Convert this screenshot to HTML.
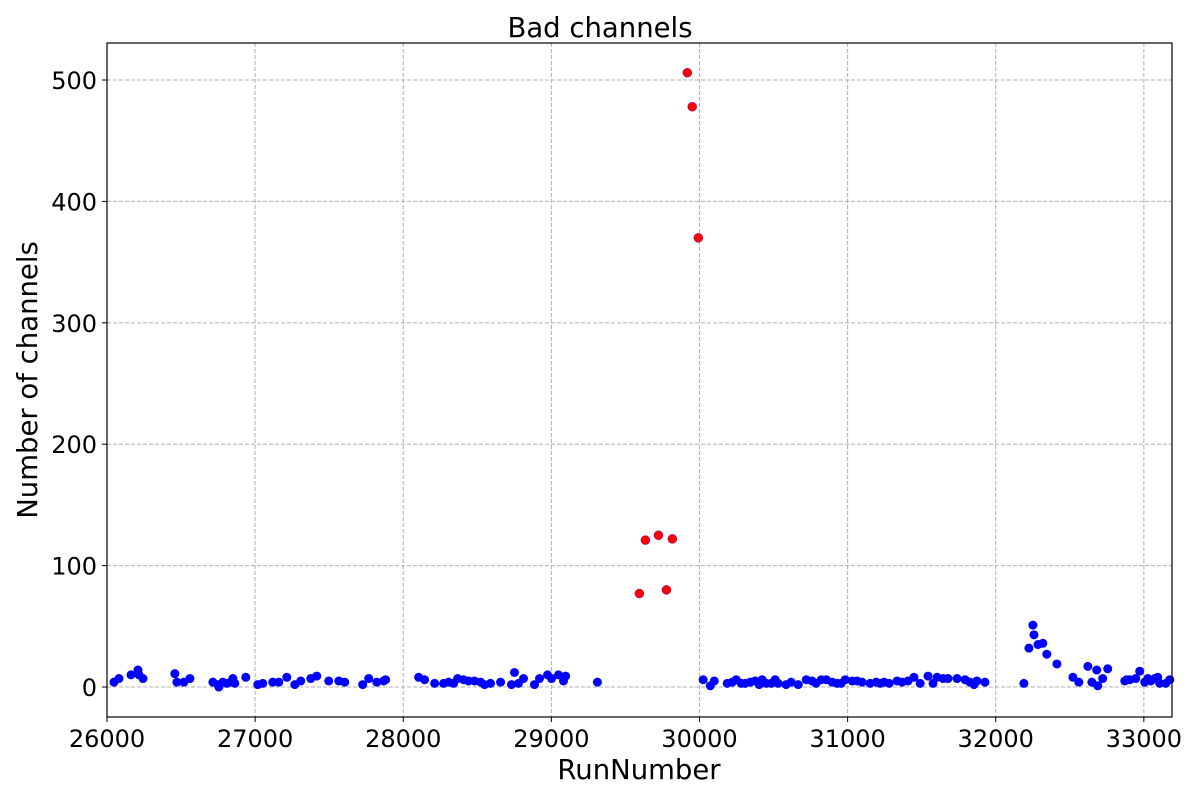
<!DOCTYPE html>
<html><head><meta charset="utf-8"><style>
html,body{margin:0;padding:0;background:#fff;}
svg{display:block;font-family:"DejaVu Sans","Liberation Sans",sans-serif;}
</style></head><body>
<svg id="chart" width="1200" height="800" viewBox="0 0 1200 800">
<g id="grid"></g>
<g id="points"></g>
<rect x="107" y="43" width="1065" height="674" fill="none" stroke="#000" stroke-width="1.2"/>
<g id="axes"></g>
<text x="600" y="37" text-anchor="middle" font-size="27.5">Bad channels</text>
<text x="639" y="779" text-anchor="middle" font-size="27.5">RunNumber</text>
<text transform="translate(37,380) rotate(-90)" text-anchor="middle" font-size="27.5">Number of channels</text>
</svg>
<script>
const xTicks=[26000,27000,28000,29000,30000,31000,32000,33000];
const yTicks=[0,100,200,300,400,500];
const blueRuns=[26047,26081,26162,26209,26216,26243,26458,26472,26519,26560,26715,26748,26755,26782,26809,26836,26850,26863,26937,27018,27052,27119,27160,27214,27268,27308,27376,27416,27497,27565,27605,27726,27767,27821,27868,27881,28104,28144,28212,28272,28306,28340,28367,28407,28441,28481,28522,28549,28589,28657,28731,28751,28778,28812,28886,28920,28974,29001,29048,29082,29096,29311,30025,30073,30100,30187,30221,30248,30282,30309,30343,30376,30403,30423,30451,30484,30511,30531,30585,30619,30667,30721,30760,30787,30822,30856,30896,30930,30957,30984,31031,31064,31098,31152,31193,31220,31247,31281,31334,31368,31408,31448,31490,31543,31577,31604,31645,31678,31739,31793,31826,31853,31873,31927,32190,32224,32251,32258,32285,32318,32345,32413,32521,32561,32622,32649,32682,32689,32722,32756,32871,32884,32905,32945,32972,33006,33027,33047,33074,33094,33107,33148,33175];
const blueVals=[4,7,10,14,10,7,11,4,4,7,4,2,0,4,3,4,7,3,8,2,3,4,4,8,2,5,7,9,5,5,4,2,7,4,5,6,8,6,3,3,4,3,7,6,5,5,4,2,3,4,2,12,3,7,2,7,10,7,10,5,9,4,6,1,5,3,4,6,3,3,4,5,2,6,3,3,6,3,2,4,2,6,5,3,6,6,4,3,3,6,5,5,4,3,4,3,4,3,5,4,5,8,3,9,3,8,7,7,7,6,4,2,5,4,3,32,51,43,35,36,27,19,8,4,17,4,14,1,7,15,5,6,6,7,13,4,7,5,7,8,3,3,6];
const redRuns=[29594,29635,29723,29777,29817,29918,29951,29992];
const redVals=[77,121,125,80,122,506,478,370];
const X0=107,X1=1172,Y0=717,Y1=43,xMin=26000,xMax=33190,yMin=-24.7,yMax=530.5;
const xs=v=>X0+(v-xMin)/(xMax-xMin)*(X1-X0);
const ys=v=>Y0-(v-yMin)/(yMax-yMin)*(Y0-Y1);
const NS="http://www.w3.org/2000/svg";
function mk(t,a){const e=document.createElementNS(NS,t);for(const k in a)e.setAttribute(k,a[k]);return e;}
const grid=document.getElementById('grid'),axes=document.getElementById('axes'),pts=document.getElementById('points');
xTicks.forEach(t=>{const x=xs(t);
 const l=mk('line',{x1:x,x2:x,y1:Y1,y2:Y0,stroke:'#b0b0b0','stroke-dasharray':'4,2','stroke-width':1});
 
 grid.appendChild(l);
 const tk=mk('line',{x1:x,x2:x,y1:Y0,y2:Y0+5,stroke:'#000'});
 
 axes.appendChild(tk);
 const tx=mk('text',{x:x,y:Y0+30,'text-anchor':'middle','font-size':24});tx.textContent=t;
 
 axes.appendChild(tx);});
yTicks.forEach(t=>{const y=ys(t);
 const l=mk('line',{x1:X0,x2:X1,y1:y,y2:y,stroke:'#b0b0b0','stroke-dasharray':'4,2','stroke-width':1});
 
 grid.appendChild(l);
 const tk=mk('line',{x1:X0-5,x2:X0,y1:y,y2:y,stroke:'#000'});
 
 axes.appendChild(tk);
 const tx=mk('text',{x:X0-10,y:y+9,'text-anchor':'end','font-size':24});tx.textContent=t;
 
 axes.appendChild(tx);});
blueRuns.forEach((r,i)=>{const c=mk('circle',{cx:xs(r),cy:ys(blueVals[i]),r:4.5,fill:'#0000ff'});
 
 pts.appendChild(c);});
redRuns.forEach((r,i)=>{const c=mk('circle',{cx:xs(r),cy:ys(redVals[i]),r:4.5,fill:'#ff0000',stroke:'#8000a0','stroke-width':0.5});
 
 pts.appendChild(c);});
</script>
</body></html>
